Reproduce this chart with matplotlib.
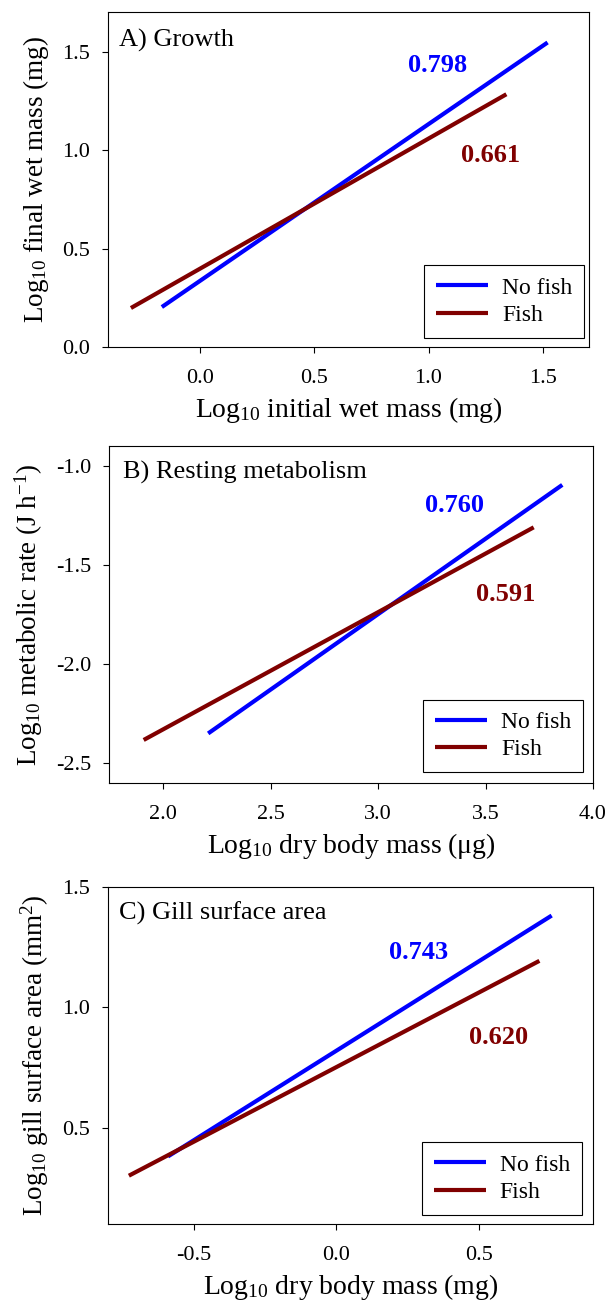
import matplotlib
matplotlib.use("Agg")
import matplotlib.pyplot as plt

plt.rcParams['font.family'] = ['Liberation Serif', 'DejaVu Serif']
plt.rcParams['mathtext.fontset'] = 'custom'
plt.rcParams['mathtext.rm'] = 'Liberation Serif'
plt.rcParams['mathtext.it'] = 'Liberation Serif:italic'
plt.rcParams['axes.unicode_minus'] = False

BLUE = '#0000ff'
RED = '#800000'

# Fitted regression lines, end points in log10 units
growth_x_nofish = [-0.165, 1.52]
growth_y_nofish = [0.203, 1.547]
growth_x_fish = [-0.30, 1.34]
growth_y_fish = [0.198, 1.284]
growth_slopes = ['0.798', '0.661']

metab_x_nofish = [2.21, 3.857]
metab_y_nofish = [-2.35, -1.097]
metab_x_fish = [1.91, 3.724]
metab_y_fish = [-2.383, -1.311]
metab_slopes = ['0.760', '0.591']

gill_x_nofish = [-0.59, 0.755]
gill_y_nofish = [0.38, 1.380]
gill_x_fish = [-0.727, 0.712]
gill_y_fish = [0.30, 1.192]
gill_slopes = ['0.743', '0.620']

series_labels = ['No fish', 'Fish']

panels = [
    dict(title='A) Growth', xn=growth_x_nofish, yn=growth_y_nofish,
         xf=growth_x_fish, yf=growth_y_fish, slopes=growth_slopes,
         xlim=(-0.4, 1.7), ylim=(0.0, 1.7),
         xticks=[0.0, 0.5, 1.0, 1.5], yticks=[0.0, 0.5, 1.0, 1.5],
         xlabel=r'Log$_{\mathrm{10}}$ initial wet mass (mg)',
         ylabel=r'Log$_{\mathrm{10}}$ final wet mass (mg)',
         title_pos=(-0.35, 1.557), s1=(1.04, 1.43), s2=(1.27, 0.975),
         rect=[0.178, 0.7335, 0.792, 0.257], leg=(0.99, 0.027)),
    dict(title='B) Resting metabolism', xn=metab_x_nofish, yn=metab_y_nofish,
         xf=metab_x_fish, yf=metab_y_fish, slopes=metab_slopes,
         xlim=(1.75, 4.0), ylim=(-2.6, -0.9),
         xticks=[2.0, 2.5, 3.0, 3.5, 4.0], yticks=[-2.5, -2.0, -1.5, -1.0],
         xlabel=r'Log$_{\mathrm{10}}$ dry body mass (μg)',
         ylabel=r'Log$_{\mathrm{10}}$ metabolic rate (J h$^{\mathrm{-1}}$)',
         title_pos=(1.814, -1.035), s1=(3.357, -1.203), s2=(3.592, -1.652),
         rect=[0.180, 0.3986, 0.797, 0.259], leg=(0.98, 0.032)),
    dict(title='C) Gill surface area', xn=gill_x_nofish, yn=gill_y_nofish,
         xf=gill_x_fish, yf=gill_y_fish, slopes=gill_slopes,
         xlim=(-0.8, 0.9), ylim=(0.1, 1.5),
         xticks=[-0.5, 0.0, 0.5], yticks=[0.5, 1.0, 1.5],
         xlabel=r'Log$_{\mathrm{10}}$ dry body mass (mg)',
         ylabel=r'Log$_{\mathrm{10}}$ gill surface area (mm$^{\mathrm{2}}$)',
         title_pos=(-0.76, 1.389), s1=(0.288, 1.226), s2=(0.568, 0.875),
         rect=[0.178, 0.060, 0.799, 0.259], leg=(0.977, 0.027)),
]

fig = plt.figure(figsize=(6.07, 13.02), dpi=100)

for p in panels:
    ax = fig.add_axes(p['rect'])
    ax.plot(p['xn'], p['yn'], color=BLUE, lw=3, label=series_labels[0],
            solid_capstyle='butt')
    ax.plot(p['xf'], p['yf'], color=RED, lw=3, label=series_labels[1],
            solid_capstyle='butt')
    ax.set_xlim(p['xlim'])
    ax.set_ylim(p['ylim'])
    ax.set_xticks(p['xticks'])
    ax.set_yticks(p['yticks'])
    ax.set_xticklabels([f'{t:.1f}' for t in p['xticks']])
    ax.set_yticklabels([f'{t:.1f}' for t in p['yticks']])
    ax.tick_params(axis='x', direction='out', length=4, width=0.8, pad=12,
                   labelsize=16)
    ax.tick_params(axis='y', direction='out', length=4, width=0.8, pad=9,
                   labelsize=16)
    for sp in ax.spines.values():
        sp.set_linewidth(0.8)
    ax.set_xlabel(p['xlabel'], fontsize=20, labelpad=5)
    ax.set_ylabel(p['ylabel'], fontsize=19.5, labelpad=8)
    ax.text(p['title_pos'][0], p['title_pos'][1], p['title'], fontsize=19,
            ha='left', va='center')
    ax.text(p['s1'][0], p['s1'][1], p['slopes'][0], color=BLUE, fontsize=19,
            fontweight='bold', ha='center', va='center')
    ax.text(p['s2'][0], p['s2'][1], p['slopes'][1], color=RED, fontsize=19,
            fontweight='bold', ha='center', va='center')
    leg = ax.legend(loc='lower right', bbox_to_anchor=p['leg'],
                    borderaxespad=0, fontsize=17, fancybox=False,
                    edgecolor='black', framealpha=1, handlelength=2.2,
                    handletextpad=0.6, labelspacing=0.25, borderpad=0.5)
    leg.get_frame().set_linewidth(0.8)

fig.savefig('out.png', dpi=100)
